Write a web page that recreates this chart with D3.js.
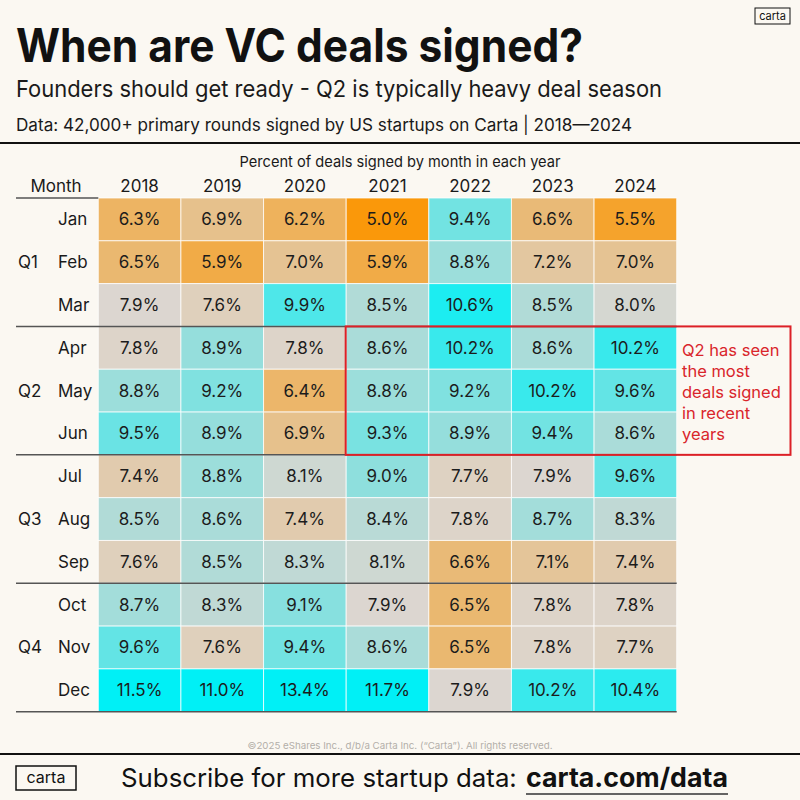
<!DOCTYPE html>
<html>
<head>
<meta charset="utf-8">
<script src="https://cdn.jsdelivr.net/npm/d3@7"></script>
<style>
  html, body { margin: 0; padding: 0; background: #fbf8f2; }
  text { font-family: Inter, "Noto Sans", sans-serif; }
</style>
</head>
<body>
<div id="chart"></div>
<script>
// Data
const years = ["2018", "2019", "2020", "2021", "2022", "2023", "2024"];
const months = ["Jan", "Feb", "Mar", "Apr", "May", "Jun", "Jul", "Aug", "Sep", "Oct", "Nov", "Dec"];
const quarters = ["Q1", "Q2", "Q3", "Q4"];

const values2018 = [6.3, 6.5, 7.9, 7.8, 8.8, 9.5, 7.4, 8.5, 7.6, 8.7, 9.6, 11.5];
const values2019 = [6.9, 5.9, 7.6, 8.9, 9.2, 8.9, 8.8, 8.6, 8.5, 8.3, 7.6, 11.0];
const values2020 = [6.2, 7.0, 9.9, 7.8, 6.4, 6.9, 8.1, 7.4, 8.3, 9.1, 9.4, 13.4];
const values2021 = [5.0, 5.9, 8.5, 8.6, 8.8, 9.3, 9.0, 8.4, 8.1, 7.9, 8.6, 11.7];
const values2022 = [9.4, 8.8, 10.6, 10.2, 9.2, 8.9, 7.7, 7.8, 6.6, 6.5, 6.5, 7.9];
const values2023 = [6.6, 7.2, 8.5, 8.6, 10.2, 9.4, 7.9, 8.7, 7.1, 7.8, 7.8, 10.2];
const values2024 = [5.5, 7.0, 8.0, 10.2, 9.6, 8.6, 9.6, 8.3, 7.4, 7.8, 7.7, 10.4];

const seriesByYear = [values2018, values2019, values2020, values2021, values2022, values2023, values2024];

const annotationLines = ["Q2 has seen", "the most", "deals signed", "in recent", "years"];

// flatten into cells
let cells = [];
years.forEach((yr, i) => {
  seriesByYear[i].forEach((v, j) => {
    cells.push({ year: yr, month: months[j], value: v });
  });
});

let width = 800, height = 800;

let svg = d3.select('#chart')
  .append('svg')
  .attr('width', width)
  .attr('height', height)
  .style('background', '#fbf8f2');

// scales
let xScale = d3.scaleBand()
  .domain(years)
  .range([98.3, 676.7]);

let yScale = d3.scaleBand()
  .domain(months)
  .range([198, 711.7]);

let color = d3.scaleLinear()
  .domain([5.0, 7.9, 11.0])
  .range(["#fa980a", "#dcd6d0", "#00f0f6"])
  .clamp(true);

// header texts
svg.append('text')
  .attr('x', 16).attr('y', 62)
  .attr('font-size', 46).attr('font-weight', 700)
  .attr('fill', '#111')
  .attr('textLength', 567).attr('lengthAdjust', 'spacingAndGlyphs')
  .text('When are VC deals signed?');

svg.append('text')
  .attr('x', 16).attr('y', 97)
  .attr('font-size', 23)
  .attr('fill', '#1a1a1a')
  .attr('textLength', 646).attr('lengthAdjust', 'spacingAndGlyphs')
  .text('Founders should get ready - Q2 is typically heavy deal season');

svg.append('text')
  .attr('x', 16).attr('y', 131)
  .attr('font-size', 17)
  .attr('fill', '#1a1a1a')
  .attr('textLength', 616).attr('lengthAdjust', 'spacingAndGlyphs')
  .text('Data: 42,000+ primary rounds signed by US startups on Carta | 2018\u20142024');

// top-right logo
svg.append('rect')
  .attr('x', 755).attr('y', 8).attr('width', 35).attr('height', 16)
  .attr('fill', 'none').attr('stroke', '#111').attr('stroke-width', 1);
svg.append('text')
  .attr('x', 772.5).attr('y', 20)
  .attr('text-anchor', 'middle')
  .attr('font-size', 11).attr('fill', '#111')
  .text('carta');

svg.append('line')
  .attr('x1', 0).attr('x2', width).attr('y1', 143).attr('y2', 143)
  .attr('stroke', '#111').attr('stroke-width', 2);

// table title + column headers
svg.append('text')
  .attr('x', 400).attr('y', 167)
  .attr('text-anchor', 'middle')
  .attr('font-size', 15).attr('fill', '#1a1a1a')
  .attr('textLength', 321).attr('lengthAdjust', 'spacingAndGlyphs')
  .text('Percent of deals signed by month in each year');

svg.append('text')
  .attr('x', 56).attr('y', 192)
  .attr('text-anchor', 'middle')
  .attr('font-size', 17).attr('fill', '#1a1a1a')
  .text('Month');

svg.selectAll('.year-label')
  .data(years)
  .enter()
  .append('text')
  .attr('class', 'year-label')
  .attr('x', d => xScale(d) + xScale.bandwidth() / 2)
  .attr('y', 192)
  .attr('text-anchor', 'middle')
  .attr('font-size', 17).attr('fill', '#1a1a1a')
  .text(d => d);

// cells
svg.selectAll('.cell')
  .data(cells)
  .enter()
  .append('rect')
  .attr('class', 'cell')
  .attr('x', d => xScale(d.year))
  .attr('y', d => yScale(d.month))
  .attr('width', xScale.bandwidth())
  .attr('height', yScale.bandwidth())
  .attr('fill', d => color(d.value))
  .attr('stroke', 'rgba(255,255,255,0.75)')
  .attr('stroke-width', 1);

svg.selectAll('.cell-label')
  .data(cells)
  .enter()
  .append('text')
  .attr('class', 'cell-label')
  .attr('x', d => xScale(d.year) + xScale.bandwidth() / 2)
  .attr('y', d => yScale(d.month) + yScale.bandwidth() / 2 + 6)
  .attr('text-anchor', 'middle')
  .attr('font-size', 17).attr('fill', '#1c1c1c')
  .text(d => d.value.toFixed(1) + '%');

// month labels
svg.selectAll('.month-label')
  .data(months)
  .enter()
  .append('text')
  .attr('class', 'month-label')
  .attr('x', 58)
  .attr('y', d => yScale(d) + yScale.bandwidth() / 2 + 6)
  .attr('font-size', 17).attr('fill', '#1a1a1a')
  .text(d => d);

// quarter labels, centered on middle month of each quarter
svg.selectAll('.q-label')
  .data(quarters)
  .enter()
  .append('text')
  .attr('class', 'q-label')
  .attr('x', 18)
  .attr('y', (d, i) => yScale(months[i * 3 + 1]) + yScale.bandwidth() / 2 + 6)
  .attr('font-size', 17).attr('fill', '#1a1a1a')
  .text(d => d);

// header rule under "Month"
svg.append('line')
  .attr('x1', 16).attr('x2', xScale(years[0]))
  .attr('y1', yScale(months[0])).attr('y2', yScale(months[0]))
  .attr('stroke', '#555').attr('stroke-width', 1.5);

// quarter separators + bottom rule
let sepY = [3, 6, 9].map(i => yScale(months[i]));
sepY.push(yScale(months[11]) + yScale.bandwidth());
svg.selectAll('.sep')
  .data(sepY)
  .enter()
  .append('line')
  .attr('class', 'sep')
  .attr('x1', 16)
  .attr('x2', xScale(years[6]) + xScale.bandwidth())
  .attr('y1', d => d).attr('y2', d => d)
  .attr('stroke', '#555').attr('stroke-width', 1.5);

// Q2 highlight box
let boxTop = yScale("Apr");
let boxBottom = yScale("Jun") + yScale.bandwidth();
svg.append('rect')
  .attr('x', xScale("2021") - 0.5)
  .attr('y', boxTop)
  .attr('width', 791 - xScale("2021"))
  .attr('height', boxBottom - boxTop)
  .attr('fill', 'none')
  .attr('stroke', '#dc2027')
  .attr('stroke-width', 2);

svg.selectAll('.note')
  .data(annotationLines)
  .enter()
  .append('text')
  .attr('class', 'note')
  .attr('x', 682)
  .attr('y', (d, i) => 356 + i * 21)
  .attr('font-size', 16.5).attr('fill', '#d9252b')
  .text(d => d);

// copyright + footer
svg.append('text')
  .attr('x', 400).attr('y', 749)
  .attr('text-anchor', 'middle')
  .attr('font-size', 9.5).attr('fill', '#b3afa9')
  .attr('textLength', 305).attr('lengthAdjust', 'spacingAndGlyphs')
  .text('\u00a92025 eShares Inc., d/b/a Carta Inc. (\u201cCarta\u201d). All rights reserved.');

svg.append('line')
  .attr('x1', 0).attr('x2', width).attr('y1', 754).attr('y2', 754)
  .attr('stroke', '#111').attr('stroke-width', 2);

svg.append('rect')
  .attr('x', 16).attr('y', 766).attr('width', 60).attr('height', 24)
  .attr('fill', 'none').attr('stroke', '#111').attr('stroke-width', 1.5);
svg.append('text')
  .attr('x', 46).attr('y', 783)
  .attr('text-anchor', 'middle')
  .attr('font-size', 16).attr('fill', '#111')
  .text('carta');

// footer line: shrink the font until each part fits its slot
function fitText(sel, target, maxSize) {
  let w = sel.node().getComputedTextLength();
  if (w > target) sel.attr('font-size', maxSize * target / w);
}

let subscribe = svg.append('text')
  .attr('x', 121).attr('y', 787)
  .attr('font-size', 28).attr('fill', '#111')
  .text('Subscribe for more startup data:');
fitText(subscribe, 396, 28);

let link = svg.append('text')
  .attr('x', 526).attr('y', 787)
  .attr('font-size', 28).attr('font-weight', 700).attr('fill', '#111')
  .text('carta.com/data');
fitText(link, 202, 28);

svg.append('line')
  .attr('x1', 526).attr('x2', 728).attr('y1', 794).attr('y2', 794)
  .attr('stroke', '#333').attr('stroke-width', 1.5);
</script>
</body>
</html>
